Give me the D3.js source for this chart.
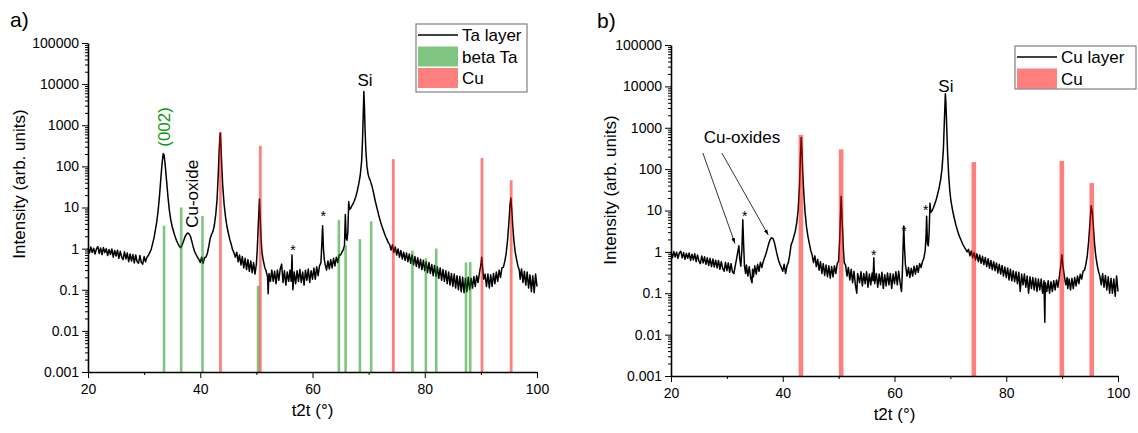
<!DOCTYPE html>
<html>
<head>
<meta charset="utf-8">
<script src="https://cdn.jsdelivr.net/npm/d3@7"></script>
<style>
  body { margin: 0; background: #fff; }
  text { font-family: "Liberation Sans", Arial, sans-serif; fill: #000; }
</style>
</head>
<body>
<svg width="1138" height="433"></svg>
<script>
// ---- data ----
var xTicks = [20, 40, 60, 80, 100];
var xMinor = [30, 50, 70, 90];
var yTicks = [0.001, 0.01, 0.1, 1, 10, 100, 1000, 10000, 100000];
var yTickLabels = ["0.001", "0.01", "0.1", "1", "10", "100", "1000", "10000", "100000"];

// a) Ta layer scan, [2theta, intensity]
var taLayer = [
  [20.00,1.05],[20.25,0.78],[20.50,1.10],[20.75,0.80],[21.00,1.02],[21.25,0.74],[21.50,0.98],[21.75,1.12],
  [22.00,0.76],[22.25,1.04],[22.50,0.72],[22.75,1.06],[23.00,0.80],[23.25,1.00],[23.50,0.68],[23.75,0.95],
  [24.00,0.72],[24.25,0.98],[24.50,0.62],[24.75,0.90],[25.00,0.66],[25.25,0.92],[25.50,0.58],[25.75,0.86],
  [26.00,0.62],[26.25,0.54],[26.50,0.84],[26.75,0.56],[27.00,0.78],[27.25,0.48],[27.50,0.74],[27.75,0.50],
  [28.00,0.72],[28.25,0.45],[28.50,0.70],[28.75,0.48],[29.00,0.44],[29.25,0.68],[29.50,0.46],[29.75,0.42],
  [30.00,0.64],[30.25,0.48],[30.50,0.62],[30.75,0.68],[31.00,0.80],[31.25,0.95],[31.50,1.3],[31.75,1.8],
  [32.00,2.8],[32.25,4.5],[32.50,8.5],[32.75,20],[33.00,55],[33.20,120],[33.40,205],[33.55,190],
  [33.75,110],[34.00,45],[34.25,18],[34.50,8.5],[34.75,5.0],[35.00,3.4],[35.25,2.6],[35.50,2.0],
  [35.75,1.6],[36.00,1.35],[36.25,1.15],[36.50,1.05],[36.75,1.2],[37.00,1.5],[37.25,1.9],[37.50,2.2],
  [37.75,2.4],[38.00,2.3],[38.25,2.0],[38.50,1.5],[38.75,1.1],[39.00,0.85],[39.25,0.72],[39.50,0.62],
  [39.75,0.55],[40.00,0.46],[40.25,0.62],[40.50,0.44],[40.75,0.60],[41.00,0.62],[41.25,0.75],[41.50,1.1],
  [41.75,1.7],[42.00,2.2],[42.25,2.6],[42.50,3.6],[42.75,6.5],[43.00,16],[43.20,60],[43.40,300],
  [43.55,650],[43.70,300],[43.85,90],[44.00,35],[44.25,12],[44.50,6],[44.75,3.5],[45.00,2.4],
  [45.25,1.7],[45.50,1.3],[45.75,0.95],[46.00,0.80],[46.25,0.62],[46.50,0.82],[46.75,0.48],[47.00,0.70],
  [47.25,0.40],[47.50,0.64],[47.75,0.34],[48.00,0.58],[48.25,0.31],[48.50,0.54],[48.75,0.28],[49.00,0.50],
  [49.25,0.26],[49.50,0.46],[49.75,0.24],[50.00,0.42],[50.15,0.9],[50.35,4],[50.55,16],[50.70,5],
  [50.85,1.6],[51.00,0.8],[51.25,0.5],[51.50,0.35],[51.75,0.28],[52.00,0.20],[52.10,0.08],[52.25,0.25],
  [52.50,0.16],[52.75,0.30],[53.00,0.16],[53.25,0.28],[53.50,0.14],[53.75,0.30],[54.00,0.17],[54.25,0.32],
  [54.50,0.42],[54.75,0.15],[55.00,0.29],[55.25,0.13],[55.50,0.27],[55.75,0.16],[56.00,0.30],[56.20,0.16],
  [56.35,0.70],[56.50,0.10],[56.75,0.27],[57.00,0.14],[57.25,0.29],[57.50,0.16],[57.75,0.31],[58.00,0.15],
  [58.25,0.27],[58.50,0.13],[58.75,0.30],[59.00,0.17],[59.25,0.32],[59.50,0.15],[59.75,0.29],[60.00,0.18],
  [60.25,0.34],[60.50,0.18],[60.75,0.36],[61.00,0.22],[61.25,0.38],[61.50,0.45],[61.65,1.2],[61.80,3.6],
  [61.95,1.0],[62.10,0.55],[62.25,0.42],[62.50,0.30],[62.75,0.50],[63.00,0.32],[63.25,0.54],[63.50,0.34],
  [63.75,0.58],[64.00,0.38],[64.25,0.62],[64.50,0.46],[64.75,0.70],[65.00,0.70],[65.25,0.82],[65.50,0.95],
  [65.70,1.2],[65.85,6.8],[66.00,1.8],[66.15,1.6],[66.30,2.6],[66.45,14],[66.60,9],[66.80,9.5],
  [67.00,11],[67.25,12.5],[67.50,15],[67.75,19],[68.00,26],[68.25,38],[68.50,60],[68.75,130],
  [68.90,400],[69.05,2000],[69.15,6600],[69.25,3000],[69.35,900],[69.50,250],[69.70,100],[69.90,65],
  [70.10,52],[70.30,45],[70.60,33],[70.90,22],[71.20,14],[71.50,9.5],[71.80,6.5],[72.10,4.6],
  [72.40,3.4],[72.70,2.6],[73.00,2.0],[73.25,1.7],[73.50,1.4],[73.75,1.25],[74.00,0.92],[74.25,1.25],
  [74.50,0.80],[74.75,1.10],[75.00,0.70],[75.25,0.98],[75.50,0.62],[75.75,0.90],[76.00,0.56],[76.25,0.82],
  [76.50,0.52],[76.75,0.78],[77.00,0.48],[77.25,0.74],[77.50,0.44],[77.75,0.70],[78.00,0.40],[78.25,0.64],
  [78.50,0.37],[78.75,0.60],[79.00,0.34],[79.25,0.55],[79.50,0.31],[79.75,0.52],[80.00,0.29],[80.25,0.48],
  [80.50,0.26],[80.75,0.46],[81.00,0.25],[81.25,0.41],[81.50,0.22],[81.75,0.39],[82.00,0.21],[82.25,0.36],
  [82.50,0.19],[82.75,0.34],[83.00,0.17],[83.25,0.31],[83.50,0.16],[83.75,0.29],[84.00,0.14],[84.25,0.27],
  [84.50,0.13],[84.75,0.25],[85.00,0.12],[85.25,0.24],[85.50,0.11],[85.75,0.22],[86.00,0.10],[86.25,0.21],
  [86.50,0.09],[86.75,0.20],[87.00,0.085],[87.25,0.19],[87.50,0.09],[87.75,0.20],[88.00,0.10],[88.25,0.19],
  [88.50,0.11],[88.75,0.21],[89.00,0.12],[89.25,0.22],[89.50,0.15],[89.75,0.26],[90.00,0.40],[90.15,0.62],
  [90.30,0.35],[90.50,0.18],[90.75,0.24],[91.00,0.12],[91.25,0.24],[91.50,0.11],[91.75,0.23],[92.00,0.12],
  [92.25,0.25],[92.50,0.14],[92.75,0.27],[93.00,0.16],[93.25,0.30],[93.50,0.20],[93.75,0.34],[94.00,0.35],
  [94.25,0.48],[94.50,0.75],[94.75,1.6],[95.00,4.5],[95.20,12],[95.35,17],[95.50,9],[95.70,3.2],
  [95.90,1.5],[96.10,0.85],[96.35,0.55],[96.60,0.38],[96.85,0.30],[97.00,0.18],[97.25,0.32],[97.50,0.15],
  [97.75,0.28],[98.00,0.13],[98.25,0.27],[98.50,0.11],[98.75,0.23],[99.00,0.09],[99.25,0.22],[99.50,0.085],
  [99.75,0.24],[100.00,0.12]
];

// b) Cu layer scan, [2theta, intensity]
var cuLayer = [
  [20.00,1.00],[20.25,0.72],[20.50,1.02],[20.75,0.75],[21.00,0.98],[21.25,0.70],[21.50,0.94],[21.75,1.04],
  [22.00,0.72],[22.25,0.96],[22.50,0.66],[22.75,0.92],[23.00,0.70],[23.25,0.94],[23.50,0.62],[23.75,0.88],
  [24.00,0.64],[24.25,0.90],[24.50,0.58],[24.75,0.84],[25.00,0.60],[25.25,0.52],[25.50,0.80],[25.75,0.54],
  [26.00,0.76],[26.25,0.50],[26.50,0.72],[26.75,0.47],[27.00,0.70],[27.25,0.44],[27.50,0.67],[27.75,0.43],
  [28.00,0.63],[28.25,0.41],[28.50,0.62],[28.75,0.38],[29.00,0.58],[29.25,0.40],[29.50,0.34],[29.75,0.56],
  [30.00,0.35],[30.25,0.54],[30.50,0.32],[30.75,0.52],[31.00,0.33],[31.25,0.30],[31.50,0.46],[31.75,0.70],
  [32.00,1.1],[32.15,1.4],[32.30,0.70],[32.50,0.45],[32.70,1.2],[32.85,6.0],[33.00,1.5],[33.15,0.45],
  [33.35,0.30],[33.50,0.48],[33.75,0.26],[34.00,0.44],[34.25,0.24],[34.50,0.18],[34.60,0.38],[34.75,0.25],
  [35.00,0.46],[35.25,0.29],[35.50,0.50],[35.75,0.34],[36.00,0.56],[36.25,0.42],[36.50,0.58],[36.75,0.72],
  [37.00,0.90],[37.25,1.2],[37.50,1.6],[37.75,2.0],[38.00,2.2],[38.25,2.1],[38.50,1.7],[38.75,1.2],
  [39.00,0.85],[39.25,0.62],[39.50,0.50],[39.75,0.42],[40.00,0.34],[40.25,0.50],[40.50,0.30],[40.75,0.46],
  [41.00,0.55],[41.25,0.85],[41.50,1.5],[41.75,1.8],[42.00,2.4],[42.25,3.2],[42.50,5],[42.75,10],
  [43.00,40],[43.15,180],[43.30,580],[43.45,250],[43.60,70],[43.80,22],[44.00,9],[44.25,4],
  [44.50,2.4],[44.75,1.6],[45.00,1.1],[45.25,0.85],[45.50,0.55],[45.75,0.80],[46.00,0.44],[46.25,0.66],
  [46.50,0.36],[46.75,0.58],[47.00,0.30],[47.25,0.52],[47.50,0.27],[47.75,0.48],[48.00,0.25],[48.25,0.46],
  [48.50,0.23],[48.75,0.44],[49.00,0.25],[49.25,0.46],[49.50,0.30],[49.75,0.52],[50.00,0.60],[50.20,2.2],
  [50.45,22],[50.65,5],[50.85,1.2],[51.00,0.55],[51.25,0.48],[51.50,0.26],[51.75,0.42],[52.00,0.21],
  [52.25,0.38],[52.50,0.18],[52.75,0.34],[53.00,0.16],[53.25,0.10],[53.40,0.30],[53.75,0.18],[54.00,0.33],
  [54.25,0.15],[54.50,0.30],[54.75,0.17],[55.00,0.33],[55.25,0.14],[55.50,0.29],[55.75,0.16],[56.00,0.31],
  [56.15,0.20],[56.30,0.72],[56.45,0.17],[56.75,0.30],[57.00,0.14],[57.25,0.29],[57.50,0.16],[57.75,0.32],
  [58.00,0.13],[58.25,0.28],[58.50,0.15],[58.75,0.31],[59.00,0.16],[59.25,0.30],[59.50,0.13],[59.75,0.29],
  [60.00,0.17],[60.25,0.33],[60.50,0.16],[60.75,0.34],[61.00,0.18],[61.25,0.11],[61.40,0.30],[61.55,1.5],
  [61.65,4.2],[61.80,1.2],[61.95,0.50],[62.10,0.36],[62.25,0.26],[62.50,0.42],[62.75,0.24],[63.00,0.40],
  [63.25,0.26],[63.50,0.45],[63.75,0.29],[64.00,0.47],[64.25,0.32],[64.50,0.52],[64.75,0.42],[65.00,0.58],
  [65.25,0.70],[65.50,1.1],[65.65,2.5],[65.75,7.3],[65.90,1.6],[66.05,1.4],[66.20,3],[66.35,15],
  [66.50,9],[66.75,10],[67.00,12],[67.25,15],[67.50,19],[67.75,26],[68.00,36],[68.25,55],
  [68.50,100],[68.75,300],[68.95,1800],[69.10,6600],[69.20,4000],[69.35,1000],[69.50,250],[69.70,70],
  [69.90,30],[70.10,17],[70.40,10],[70.70,6.5],[71.00,4.4],[71.30,3.2],[71.60,2.4],[72.00,1.8],
  [72.25,1.5],[72.50,1.3],[72.75,1.15],[73.00,1.0],[73.25,1.15],[73.50,0.80],[73.75,1.05],[74.00,0.72],
  [74.25,0.96],[74.50,0.64],[74.75,0.90],[75.00,0.58],[75.25,0.84],[75.50,0.53],[75.75,0.78],[76.00,0.49],
  [76.25,0.73],[76.50,0.44],[76.75,0.68],[77.00,0.40],[77.25,0.62],[77.50,0.37],[77.75,0.58],[78.00,0.35],
  [78.25,0.54],[78.50,0.31],[78.75,0.50],[79.00,0.29],[79.25,0.47],[79.50,0.26],[79.75,0.43],[80.00,0.24],
  [80.25,0.41],[80.50,0.21],[80.75,0.38],[81.00,0.20],[81.25,0.35],[81.50,0.19],[81.75,0.33],[82.00,0.17],
  [82.25,0.32],[82.50,0.11],[82.75,0.29],[83.00,0.16],[83.25,0.29],[83.50,0.14],[83.75,0.26],[84.00,0.10],
  [84.25,0.25],[84.50,0.13],[84.75,0.24],[85.00,0.12],[85.25,0.23],[85.50,0.11],[85.75,0.22],[86.00,0.12],
  [86.25,0.22],[86.50,0.10],[86.75,0.20],[86.90,0.02],[87.00,0.18],[87.25,0.11],[87.50,0.20],[87.75,0.10],
  [88.00,0.19],[88.25,0.11],[88.50,0.20],[88.75,0.12],[89.00,0.21],[89.25,0.14],[89.50,0.25],[89.75,0.45],
  [89.95,0.85],[90.15,0.45],[90.40,0.26],[90.65,0.16],[90.90,0.24],[91.00,0.13],[91.25,0.22],[91.50,0.12],
  [91.75,0.23],[92.00,0.13],[92.25,0.24],[92.50,0.15],[92.75,0.26],[93.00,0.17],[93.25,0.29],[93.50,0.22],
  [93.75,0.34],[94.00,0.36],[94.25,0.50],[94.50,0.80],[94.75,1.8],[95.00,5.5],[95.20,13],[95.40,9],
  [95.60,4],[95.80,1.6],[96.00,0.85],[96.25,0.50],[96.50,0.34],[96.75,0.26],[97.00,0.16],[97.25,0.30],
  [97.50,0.14],[97.75,0.27],[98.00,0.12],[98.25,0.25],[98.50,0.10],[98.75,0.23],[99.00,0.10],[99.25,0.22],
  [99.50,0.085],[99.75,0.26],[100.00,0.11]
];

// reference patterns (sticks)
var betaTaPos = [33.55, 36.6, 40.4, 50.3, 64.7, 65.9, 68.45, 70.45, 77.8, 80.2, 82.05, 87.35, 88.1];
var betaTaInt = [3.6, 10, 6.2, 0.125, 5.0, 1.2, 1.7, 4.6, 0.89, 0.58, 1.0, 0.46, 0.47];
var cuPosA = [43.6, 50.7, 74.4, 90.2, 95.4];
var cuIntA = [680, 316, 150, 160, 46];
var cuPosB = [43.25, 50.45, 74.2, 89.95, 95.3];
var cuIntB = [671, 300, 148, 157, 46];

var svg = d3.select("svg");

svg.append("defs").append("marker")
    .attr("id", "arrow")
    .attr("viewBox", "0 0 10 10")
    .attr("refX", 10).attr("refY", 5)
    .attr("markerWidth", 7).attr("markerHeight", 7)
    .attr("orient", "auto")
  .append("path")
    .attr("d", "M0,1.5L10,5L0,8.5z")
    .attr("fill", "#000");

function drawPanel(o) {
  var x = d3.scaleLinear().domain([20, 100]).range(o.xr);
  var y = d3.scaleLog().domain([0.001, 100000]).range(o.yr);
  var g = svg.append("g");

  g.append("path")
      .datum(o.curve)
      .attr("d", d3.line().x(d => x(d[0])).y(d => y(d[1])))
      .attr("fill", "none")
      .attr("stroke", "#000")
      .attr("stroke-width", 1.5)
      .attr("stroke-linejoin", "round");

  o.sticks.forEach(function(s) {
    g.selectAll(null)
      .data(d3.zip(s.pos, s.int))
      .enter().append("rect")
        .attr("x", d => x(d[0]) - s.w / 2)
        .attr("width", s.w)
        .attr("y", d => y(d[1]))
        .attr("height", d => y(0.001) - y(d[1]))
        .attr("fill", s.color)
        .attr("fill-opacity", 0.5);
  });

  // axes
  var minorY = [];
  yTicks.slice(0, -1).forEach(function(t) {
    for (var k = 2; k <= 9; k++) minorY.push(t * k);
  });
  g.append("g")
      .attr("transform", "translate(" + o.xr[0] + ",0)")
      .call(d3.axisLeft(y).tickValues(minorY).tickSize(3).tickFormat(""))
      .call(a => a.select(".domain").remove())
      .selectAll("line").attr("stroke-width", 1);
  var ya = g.append("g")
      .attr("transform", "translate(" + o.xr[0] + ",0)")
      .call(d3.axisLeft(y).tickValues(yTicks).tickSize(6).tickSizeOuter(0).tickPadding(3)
              .tickFormat((d, i) => yTickLabels[i]));
  ya.selectAll("text").style("font-size", "14px");

  g.append("g")
      .attr("transform", "translate(0," + o.yr[0] + ")")
      .call(d3.axisBottom(x).tickValues(xMinor).tickSize(3).tickFormat(""))
      .call(a => a.select(".domain").remove());
  var xa = g.append("g")
      .attr("transform", "translate(0," + o.yr[0] + ")")
      .call(d3.axisBottom(x).tickValues(xTicks).tickSize(6).tickSizeOuter(0).tickPadding(6));
  xa.selectAll("text").style("font-size", "14px");

  g.selectAll(".domain").attr("stroke-width", 1.6);
  g.selectAll(".tick line").attr("stroke", "#000");
  g.selectAll(".tick text").attr("fill", "#000").style("font-family", "Liberation Sans, Arial, sans-serif");

  g.append("text")
      .attr("x", (o.xr[0] + o.xr[1]) / 2).attr("y", o.yr[0] + 44)
      .attr("text-anchor", "middle").style("font-size", "17px")
      .text("t2t (°)");
  g.append("text")
      .attr("transform", "translate(" + o.ylabX + "," + o.ylabY + ") rotate(-90)")
      .attr("text-anchor", "middle").attr("dy", "0.35em").style("font-size", "17px")
      .text("Intensity (arb. units)");
  g.append("text")
      .attr("x", o.tag[0]).attr("y", o.tag[1])
      .style("font-size", "21px").text(o.tagText);

  // annotations in data coordinates
  o.notes.forEach(function(n) {
    var t = g.append("text")
        .style("font-size", (n.size || 17) + "px")
        .style("fill", n.color || "#000")
        .text(n.text);
    if (n.rot) {
      t.attr("transform", "translate(" + x(n.at[0]) + "," + y(n.at[1]) + ") rotate(-90)")
       .attr("text-anchor", "start").attr("dy", "0.35em");
    } else {
      t.attr("x", x(n.at[0])).attr("y", y(n.at[1]))
       .attr("text-anchor", "middle").attr("dy", n.dy || 0);
    }
  });
  (o.arrows || []).forEach(function(a) {
    g.append("line")
      .attr("x1", x(a[0])).attr("y1", y(a[1]))
      .attr("x2", x(a[2])).attr("y2", y(a[3]))
      .attr("stroke", "#000").attr("stroke-width", 0.8)
      .attr("marker-end", "url(#arrow)");
  });

  // legend
  var L = o.legend;
  var lg = g.append("g").attr("transform", "translate(" + L.x + "," + L.y + ")");
  lg.append("rect").attr("width", L.w).attr("height", L.h)
    .attr("fill", "#fff").attr("stroke", "#808080").attr("stroke-width", 1.2);
  L.items.forEach(function(it, i) {
    var cy = 11 + i * 21.5;
    if (it.type === "line") {
      lg.append("line").attr("x1", 2).attr("x2", 42).attr("y1", cy).attr("y2", cy)
        .attr("stroke", "#000").attr("stroke-width", 1.5);
    } else {
      lg.append("rect").attr("x", 2).attr("width", 40).attr("y", cy - 10).attr("height", 20)
        .attr("fill", it.color).attr("fill-opacity", 0.5);
    }
    lg.append("text").attr("x", 46).attr("y", cy).attr("dy", "0.36em")
      .style("font-size", "17px").text(it.label);
  });
}

drawPanel({
  xr: [88, 537], yr: [372, 43],
  curve: taLayer,
  sticks: [
    {pos: betaTaPos, int: betaTaInt, w: 2.6, color: "rgb(0,140,0)"},
    {pos: cuPosA, int: cuIntA, w: 2.8, color: "rgb(255,0,0)"}
  ],
  ylabX: 19, ylabY: 184,
  tag: [10, 27], tagText: "a)",
  notes: [
    {text: "(002)", at: [33.5, 300], rot: true, color: "#0a9a0a"},
    {text: "Cu-oxide", at: [38.5, 3.2], rot: true},
    {text: "Si", at: [69.35, 9000]},
    {text: "*", at: [56.5, 1.1], size: 14, dy: "0.58em"},
    {text: "*", at: [61.9, 7.4], size: 14, dy: "0.58em"}
  ],
  legend: {x: 416, y: 24, w: 111, h: 68, items: [
    {type: "line", label: "Ta layer"},
    {type: "rect", color: "rgb(0,140,0)", label: "beta Ta"},
    {type: "rect", color: "rgb(255,0,0)", label: "Cu"}
  ]}
});

drawPanel({
  xr: [671, 1118], yr: [376, 45],
  curve: cuLayer,
  sticks: [
    {pos: cuPosB, int: cuIntB, w: 4.6, color: "rgb(255,0,0)"}
  ],
  ylabX: 610, ylabY: 190,
  tag: [597, 28], tagText: "b)",
  notes: [
    {text: "Cu-oxides", at: [32.7, 590], dy: "0.35em"},
    {text: "Si", at: [69.2, 7200]},
    {text: "*", at: [33.2, 8.7], size: 14, dy: "0.58em"},
    {text: "*", at: [56.3, 1.0], size: 14, dy: "0.58em"},
    {text: "*", at: [61.7, 3.8], size: 14, dy: "0.58em"},
    {text: "*", at: [65.6, 12], size: 14, dy: "0.58em"}
  ],
  arrows: [[25.7, 245, 31.45, 1.6], [29.1, 245, 37.4, 2.56]],
  legend: {x: 1015, y: 46, w: 121, h: 43, items: [
    {type: "line", label: "Cu layer"},
    {type: "rect", color: "rgb(255,0,0)", label: "Cu"}
  ]}
});
</script>
</body>
</html>
